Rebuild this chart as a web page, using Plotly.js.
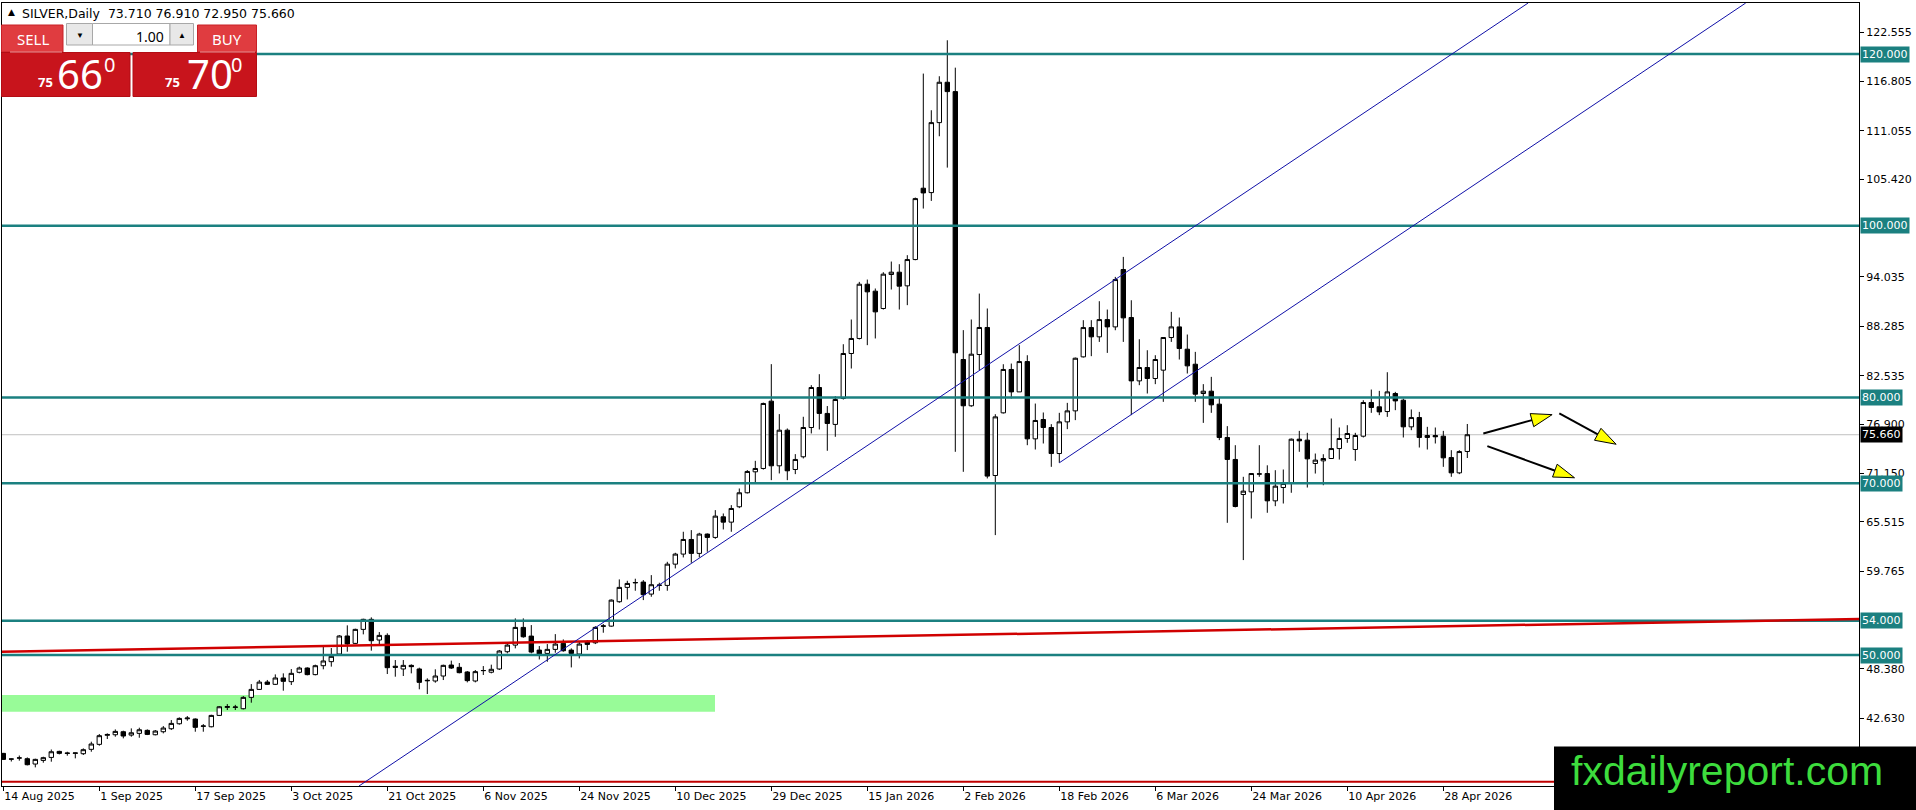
<!DOCTYPE html>
<html><head><meta charset="utf-8">
<script src="https://cdn.plot.ly/plotly-3.0.1.min.js"></script>
<style>html,body{margin:0;padding:0;background:#fff;overflow:hidden}#chart{width:1916px;height:810px}</style>
</head><body><div id="chart"></div>
<script>
// ---- DATA (SILVER, Daily) ----
const opens=[38.55,37.9,38.0,37.93,37.31,37.73,38.08,38.78,38.6,38.55,38.51,39.02,39.6,40.65,40.72,41.07,40.68,40.88,41.23,40.72,41.07,41.42,42.0,42.58,42.55,41.7,41.65,42.97,43.9,43.9,43.75,45.07,46.0,46.86,46.59,47.33,46.9,47.99,48.49,47.72,48.76,49.23,50.12,52.22,51.36,52.99,54.16,51.75,52.29,48.7,48.38,48.8,48.38,47.0,46.98,47.56,48.84,48.57,48.03,46.98,48.18,48.0,48.38,50.39,51.16,53.22,52.21,50.58,50.19,50.66,51.36,50.58,50.12,51.51,51.43,53.34,53.37,56.21,57.88,58.4,58.5,57.1,58.11,58.11,60.59,61.76,63.46,61.84,64.09,63.7,66.1,65.48,67.27,68.9,71.34,71.73,79.57,72.04,76.19,71.61,73.09,76.5,81.16,78.14,76.86,79.88,85.12,86.87,93.19,92.38,90.36,94.32,94.59,93.0,96.06,104.37,103.86,112.01,116.71,115.62,84.42,79.03,85.0,88.15,70.91,78.21,83.26,80.65,84.18,75.18,77.43,76.5,73.47,77.16,78.44,84.73,88.14,87.06,89.07,88.22,94.9,89.31,81.93,83.49,82.21,83.18,86.98,88.22,85.62,83.87,80.46,80.73,79.22,75.34,72.78,68.7,69.01,71.07,71.14,67.96,69.51,69.98,75.14,75.03,72.31,72.62,72.89,74.05,75.22,73.94,75.49,79.41,78.91,78.36,80.46,79.68,76.58,77.66,75.34,75.57,75.49,73.0,71.22,73.71];
const highs=[38.6,37.95,38.3,38.08,37.93,38.16,39.0,38.86,38.74,38.63,39.13,39.91,40.8,40.88,41.34,41.19,41.46,41.54,41.34,41.27,41.73,42.43,42.74,42.9,42.62,41.96,43.05,44.06,44.29,44.2,45.22,46.62,47.1,47.1,47.75,47.87,48.37,48.65,48.57,48.88,51.13,50.82,52.33,53.46,53.07,54.23,54.39,52.68,52.53,49.42,49.42,48.92,48.53,47.29,48.34,48.88,49.35,49.07,48.14,48.26,48.72,48.88,50.59,51.36,54.27,54.27,53.49,51.05,51.28,52.44,51.82,50.78,51.55,51.75,53.37,53.61,56.48,58.81,58.65,58.89,58.73,59.31,58.42,60.86,61.91,64.36,64.55,64.24,64.16,66.88,66.49,67.46,69.4,71.54,72.62,79.4,83.88,78.06,76.39,73.4,77.75,81.43,82.71,79.0,80.15,86.2,89.08,93.46,93.73,92.69,94.59,95.83,95.52,96.57,103.28,117.72,113.45,117.41,121.6,118.41,87.84,89.08,92.1,90.36,78.05,83.87,83.95,86.09,84.92,79.29,78.25,76.89,78.21,79.37,84.65,89.0,89.0,91.21,90.24,94.04,96.37,91.32,86.78,85.5,84.92,86.98,89.97,89.31,87.33,85.31,81.55,82.4,80.07,76.66,74.44,70.76,71.14,74.44,72.1,71.53,71.61,75.22,76.11,75.88,73.47,73.39,77.55,76.5,76.77,75.88,79.68,80.92,80.77,82.94,80.65,79.87,78.6,78.32,76.58,76.5,76.11,73.86,73.86,76.91];
const lows=[37.8,37.6,37.7,37.15,36.92,37.46,37.58,38.43,38.28,37.97,38.36,38.74,39.44,40.22,40.49,40.3,40.49,40.37,40.68,40.65,40.88,41.27,41.89,42.35,41.07,41.07,41.58,42.9,43.6,43.6,43.67,44.45,45.93,46.51,46.51,45.85,46.51,47.87,47.64,47.64,48.34,48.65,49.97,50.39,51.29,52.41,50.51,51.17,47.79,47.48,47.56,47.87,46.01,45.46,46.78,47.09,48.38,47.87,46.82,46.82,47.68,47.87,48.26,50.2,50.78,52.02,50.2,49.49,49.22,50.27,50.39,48.56,49.61,50.58,51.28,52.6,53.3,56.09,56.48,57.49,56.4,56.79,57.49,57.49,60.09,61.37,60.75,61.37,62.03,63.54,64.63,64.36,67.11,68.82,69.98,71.6,70.37,71.15,70.37,71.07,72.9,75.81,76.27,73.79,75.42,79.76,83.37,86.75,86.09,86.87,90.24,92.57,90.24,90.75,95.98,102.0,102.89,110.42,106.77,73.67,71.34,78.91,83.18,70.57,63.97,78.13,79.88,80.65,74.44,73.94,74.64,71.92,72.39,76.31,77.36,84.65,84.81,86.47,85.19,87.83,86.47,77.94,81.43,80.46,81.55,79.49,86.47,84.42,82.79,79.49,77.04,78.21,75.03,65.4,67.2,61.06,65.9,70.76,66.57,67.34,67.65,68.9,73.67,69.51,71.14,69.78,72.89,72.77,74.72,72.62,75.34,78.21,77.94,77.74,78.52,75.34,76.19,74.17,73.94,74.64,71.92,70.76,71.07,72.95];
const closes=[37.85,37.88,38.02,37.23,37.85,38.05,38.74,38.55,38.55,38.6,38.98,39.64,40.61,40.75,41.11,40.57,40.95,41.3,40.76,41.15,41.5,42.04,42.62,42.66,41.58,41.74,42.97,43.98,44.0,43.95,45.07,46.0,46.85,46.59,47.33,46.94,47.87,48.49,47.72,48.76,49.31,49.85,52.22,51.29,52.99,54.16,51.67,52.29,48.53,48.57,48.8,48.65,46.82,47.05,47.56,48.8,48.49,47.95,47.02,48.07,48.2,48.34,50.47,51.16,53.22,52.13,50.35,50.12,50.66,51.28,50.5,50.19,51.28,51.24,53.22,53.4,56.4,57.88,58.34,58.45,57.03,58.19,58.15,60.59,61.76,63.46,61.84,64.09,63.7,66.18,65.48,67.07,68.9,71.38,71.73,79.3,72.04,76.19,71.46,72.78,76.5,81.16,78.14,76.97,79.76,85.12,86.87,93.19,92.3,89.97,94.36,94.59,92.96,96.06,103.16,103.82,112.01,116.71,115.62,85.2,79.03,85.04,88.15,70.84,77.74,83.26,80.65,84.18,75.18,77.32,76.5,73.47,77.16,78.44,84.57,88.14,87.06,89.07,88.22,93.73,89.27,81.93,83.49,82.21,84.42,86.98,88.22,85.7,83.68,80.38,80.73,79.14,75.34,72.78,67.3,69.09,71.14,71.1,67.96,69.67,69.98,75.14,74.95,72.85,72.7,72.89,74.05,75.22,75.8,75.57,79.41,78.83,78.32,80.65,79.6,76.58,77.66,75.34,75.57,75.42,72.97,71.22,73.7,75.66];
const dateLabels=['14 Aug 2025','1 Sep 2025','17 Sep 2025','3 Oct 2025','21 Oct 2025','6 Nov 2025','24 Nov 2025','10 Dec 2025','29 Dec 2025','15 Jan 2026','2 Feb 2026','18 Feb 2026','6 Mar 2026','24 Mar 2026','10 Apr 2026','28 Apr 2026'];
const barsPerLabel=12;
const priceTicks=[122.555,116.805,111.055,105.420,94.035,88.285,82.535,76.900,71.150,65.515,59.765,48.380,42.630];
const levels=[120,100,80,70,54,50];
const lastPrice=75.66;
const header='SILVER,Daily  73.710 76.910 72.950 75.660';
const bidBig='66', askBig='70', pricePrefix='75', lotSize='1.00';
// drawn objects (bar index, price)
const trendStartX=[44.46,132], trendStartY=[34.75,72.39], trendEndX=[190.6,217.8], trendEndY=[125.94,125.94];
const redLineX=[-0.1625,231.96], redLineY=[50.38,54.2];
const bottomLine=35.25;
const zoneX=[-0.1625,88.96], zoneY=[43.4,45.34];
const arrowX0=[185.0,194.5,185.5], arrowY0=[75.81,78.14,74.33], arrowX1=[193.6,201.6,196.4], arrowY1=[78.0,74.55,70.65];

// ---- layout helpers (pixel -> paper) ----
const W=1916,H=810,ML=2,MR=57,MT=3,MB=24,PW=W-ML-MR,PH=H-MT-MB;
const px=x=>(x-ML)/PW, py=y=>(H-MB-y)/PH;
const FONT='DejaVu Sans';
const idx=opens.map((_,i)=>i);

const traces=[{
  type:'candlestick',x:idx,open:opens,high:highs,low:lows,close:closes,
  increasing:{line:{color:'#000',width:1},fillcolor:'#ffffff'},
  decreasing:{line:{color:'#000',width:1},fillcolor:'#000000'},
  whiskerwidth:0,hoverinfo:'skip',showlegend:false
}];
for(let k=0;k<arrowX0.length;k++){
  traces.push({type:'scatter',mode:'lines+markers',x:[arrowX0[k],arrowX1[k]],y:[arrowY0[k],arrowY1[k]],
    line:{color:'#000',width:2},
    marker:{symbol:['circle','arrow'],size:[2,22],opacity:[0,1],angleref:'previous',color:'#ffff00',line:{color:'#000',width:1}},
    hoverinfo:'skip',showlegend:false,cliponaxis:false});
}

const shapes=[];
shapes.push({type:'rect',xref:'x',yref:'y',x0:zoneX[0],x1:zoneX[1],y0:zoneY[0],y1:zoneY[1],fillcolor:'#98fb98',line:{width:0},layer:'below'});
levels.forEach(v=>shapes.push({type:'line',xref:'paper',yref:'y',x0:0,x1:1,y0:v,y1:v,line:{color:'#1b8080',width:2.5}}));
shapes.push({type:'line',xref:'paper',yref:'y',x0:0,x1:1,y0:lastPrice,y1:lastPrice,line:{color:'#c0c0c0',width:1},layer:'below'});
shapes.push({type:'line',xref:'x',yref:'y',x0:redLineX[0],x1:redLineX[1],y0:redLineY[0],y1:redLineY[1],line:{color:'#d00000',width:2.5}});
shapes.push({type:'line',xref:'paper',yref:'y',x0:0,x1:1,y0:bottomLine,y1:bottomLine,line:{color:'#c00000',width:2}});
for(let k=0;k<trendStartX.length;k++){
  shapes.push({type:'line',xref:'x',yref:'y',x0:trendStartX[k],x1:trendEndX[k],y0:trendStartY[k],y1:trendEndY[k],line:{color:'#1010a8',width:1}});
}
function rect(x0,y0,x1,y1,fill,lc,lw){shapes.push({type:'rect',xref:'paper',yref:'paper',x0:px(x0),x1:px(x1),y0:py(y1),y1:py(y0),fillcolor:fill,line:{color:lc||fill,width:lw===undefined?0:lw},layer:'above'});}
// one-click trading panel
rect(1.5,25,63,52,'#e03c40','#c82026',1);
rect(197.5,25,256.5,52,'#e03c40','#c82026',1);
rect(1.5,52.5,130,96.5,'#c8141c','#b30d14',1);
rect(133,52.5,256.5,96.5,'#c8141c','#b30d14',1);
rect(66.5,23.5,92.5,45,'#e8e8e8','#a8a8a8',1);
rect(92.5,23.5,170,45,'#ffffff','#a8a8a8',1);
rect(170,23.5,193.5,45,'#e8e8e8','#a8a8a8',1);
shapes.push({type:'line',xref:'paper',yref:'paper',x0:px(10),x1:px(62),y0:py(52),y1:py(52),line:{color:'#f29a9c',width:1},layer:'above'});
shapes.push({type:'line',xref:'paper',yref:'paper',x0:px(200),x1:px(255),y0:py(52),y1:py(52),line:{color:'#f29a9c',width:1},layer:'above'});
// watermark box
rect(1554,746.5,1917,811,'#000000','#000000',0);

const ann=[];
function txt(t,x,y,size,color,xa,fam,extra){ann.push(Object.assign({text:t,xref:'paper',yref:'paper',x:px(x),y:py(y),xanchor:xa||'center',yanchor:'middle',showarrow:false,font:{family:fam||'Noto Sans',size:size,color:color}},extra||{}));}
txt('&#9650;',11,12.5,9,'#000','center',FONT);
txt(header,20,13,12.5,'#000','left',FONT);
txt('SELL',33,39,15,'#ffffff');
txt('BUY',227,39,15,'#ffffff');
txt('&#9660;',79.5,35,8,'#000');
txt('&#9650;',181.7,35,8,'#000');
txt(lotSize,166,36,14,'#000','right');
[[45.5,80,109.5,bidBig],[172.5,210,236,askBig]].forEach(p=>{
  txt('<b>'+pricePrefix+'</b>',p[0],82,13,'#ffffff');
  txt(p[3],p[1],73,40,'#ffffff');
  txt('0',p[2],65,20,'#ffffff');
});
txt('fxdailyreport.com',1727,771,41,'#3ddc3d','center','Liberation Sans');
levels.forEach(v=>ann.push({text:v.toFixed(3),xref:'paper',yref:'y',x:1,y:v,xanchor:'left',yanchor:'middle',xshift:1,showarrow:false,bgcolor:'#1b8080',borderpad:1,font:{family:FONT,size:11,color:'#ffffff'}}));
ann.push({text:lastPrice.toFixed(3),xref:'paper',yref:'y',x:1,y:lastPrice,xanchor:'left',yanchor:'middle',xshift:1,showarrow:false,bgcolor:'#000000',borderpad:1,font:{family:FONT,size:11,color:'#ffffff'}});

const tickVals=dateLabels.map((_,i)=>i*barsPerLabel);
const layout={
  width:W,height:H,margin:{l:ML,r:MR,t:MT,b:MB,pad:0},
  paper_bgcolor:'#ffffff',plot_bgcolor:'#ffffff',showlegend:false,
  boxgap:0.45,boxgroupgap:0,
  xaxis:{range:[-0.1625,231.96],showgrid:false,zeroline:false,showline:true,mirror:true,linecolor:'#000',linewidth:1,
    ticks:'outside',ticklen:4,tickcolor:'#000',tickvals:tickVals,ticktext:dateLabels,ticklabelposition:'outside right',
    tickfont:{family:FONT,size:11,color:'#000'},rangeslider:{visible:false},fixedrange:true},
  yaxis:{side:'right',range:[34.75,125.94],showgrid:false,zeroline:false,showline:true,mirror:true,linecolor:'#000',linewidth:1,
    ticks:'outside',ticklen:4,tickcolor:'#000',tickvals:priceTicks,ticktext:priceTicks.map(v=>v.toFixed(3)),
    tickfont:{family:FONT,size:11,color:'#000'},fixedrange:true},
  shapes:shapes,annotations:ann
};
Plotly.newPlot('chart',traces,layout,{staticPlot:true,displayModeBar:false});
</script></body></html>
